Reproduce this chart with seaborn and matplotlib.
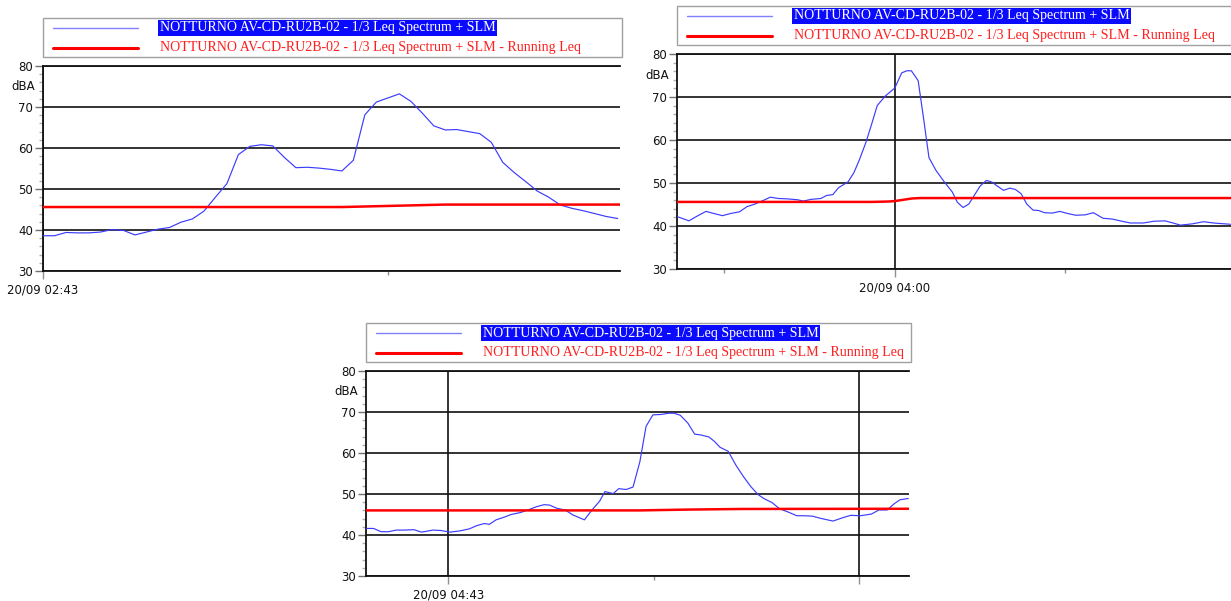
import numpy as np
import pandas as pd
import matplotlib
matplotlib.use("Agg")
import matplotlib.pyplot as plt
from matplotlib.patches import Rectangle
from matplotlib.lines import Line2D
from matplotlib.ticker import MultipleLocator, FixedLocator
import seaborn as sns

# ---------------- data ----------------
SERIES_LABEL = "NOTTURNO AV-CD-RU2B-02 - 1/3 Leq Spectrum + SLM"
RUNNING_LABEL = "NOTTURNO AV-CD-RU2B-02 - 1/3 Leq Spectrum + SLM - Running Leq"
Y_UNIT = "dBA"

# panel 1 (seconds after 20/09 02:43)
p1_t = list(range(51))
p1_leq = [38.6, 38.6, 39.4, 39.3, 39.3, 39.5, 40.1, 39.9, 38.8, 39.5,
          40.2, 40.6, 41.9, 42.7, 44.6, 48.0, 51.3, 58.4, 60.4, 60.8,
          60.5, 57.7, 55.2, 55.3, 55.1, 54.8, 54.4, 57.0, 68.1, 71.2,
          72.2, 73.2, 71.4, 68.5, 65.4, 64.4, 64.5, 64.0, 63.5, 61.4,
          56.5, 54.0, 51.8, 49.5, 48.0, 46.1, 45.3, 44.7, 44.0, 43.3, 42.8]
p1_run_t = [0, 26, 29, 32, 35, 50.2]
p1_run = [45.6, 45.6, 45.8, 46.0, 46.2, 46.2]
p1_xlim = (0, 50.2)
p1_major = [0]
p1_major_labels = ["20/09 02:43"]
p1_minor = [30]

# panel 2 (seconds relative to 20/09 04:00)
p2_t = [-38.3, -36.2, -34.9, -33.2, -31.8, -30.3, -28.9, -27.3, -26.0, -24.6,
        -23.2, -21.9, -20.5, -18.8, -17.1, -16.1, -14.7, -13.0, -12.0, -10.9,
        -9.9, -8.2, -7.2, -6.2, -5.1, -4.1, -3.1, -1.7, 0.0, 1.2,
        2.1, 2.9, 4.1, 5.0, 6.0, 7.2, 8.5, 10.1, 11.0, 12.0,
        13.0, 14.0, 15.0, 16.1, 17.1, 18.0, 19.1, 20.2, 21.2, 22.2,
        23.2, 24.3, 25.3, 26.3, 27.7, 29.0, 30.4, 31.8, 33.5, 34.9,
        36.6, 38.3, 39.6, 41.4, 43.7, 45.5, 47.5, 48.9, 50.2, 52.3,
        54.3, 56.0, 59.0]
p2_leq = [42.2, 41.2, 42.2, 43.4, 42.9, 42.4, 42.9, 43.3, 44.5, 45.1,
          45.9, 46.7, 46.4, 46.3, 46.1, 45.8, 46.2, 46.4, 47.1, 47.3,
          48.9, 50.3, 52.4, 55.5, 59.4, 63.6, 68.0, 70.2, 72.1, 75.6,
          76.1, 76.1, 73.8, 65.5, 55.9, 53.0, 50.6, 47.9, 45.5, 44.3,
          45.1, 47.2, 49.3, 50.6, 50.2, 49.3, 48.3, 48.8, 48.5, 47.5,
          45.1, 43.7, 43.6, 43.1, 43.0, 43.4, 42.9, 42.5, 42.6, 43.1,
          41.8, 41.6, 41.2, 40.7, 40.7, 41.1, 41.2, 40.7, 40.2, 40.5,
          41.0, 40.7, 40.4]
p2_run_t = [-38.3, -4.0, -1.0, 0.0, 1.5, 3.0, 4.5, 59.1]
p2_run = [45.6, 45.6, 45.7, 45.8, 46.1, 46.4, 46.5, 46.5]
p2_xlim = (-38.3, 59.1)
p2_major = [0]
p2_major_labels = ["20/09 04:00"]
p2_minor = [-30, 30]

# panel 3 (seconds relative to 20/09 04:43)
p3_t = [-12.0, -10.9, -9.8, -8.7, -7.6, -6.4, -5.0, -3.9, -2.2, -1.1,
        0.3, 1.7, 3.1, 4.2, 5.3, 6.0, 7.0, 8.1, 9.2, 10.6,
        11.8, 12.9, 14.0, 14.8, 15.9, 17.1, 18.2, 19.9, 21.0, 22.1,
        22.9, 24.1, 24.9, 26.0, 27.0, 28.0, 28.9, 29.9, 31.1, 32.2,
        33.0, 33.9, 35.0, 36.0, 36.9, 38.1, 38.9, 39.7, 40.9, 42.0,
        43.1, 44.2, 45.3, 46.2, 47.3, 48.4, 49.8, 50.9, 52.0, 53.2,
        54.3, 55.1, 56.2, 57.6, 58.8, 60.2, 61.8, 62.9, 64.1, 65.2,
        66.0, 67.2]
p3_leq = [41.6, 41.6, 40.8, 40.8, 41.2, 41.2, 41.3, 40.7, 41.2, 41.1,
          40.7, 41.0, 41.5, 42.3, 42.8, 42.6, 43.7, 44.3, 45.0, 45.5,
          46.2, 46.9, 47.4, 47.3, 46.5, 46.1, 44.9, 43.7, 46.1, 48.2,
          50.6, 50.1, 51.3, 51.1, 51.7, 57.9, 66.5, 69.3, 69.4, 69.7,
          69.7, 69.2, 67.3, 64.6, 64.4, 63.9, 62.8, 61.4, 60.4, 57.1,
          54.3, 51.8, 49.8, 48.8, 47.9, 46.4, 45.5, 44.7, 44.7, 44.6,
          44.1, 43.8, 43.4, 44.2, 44.8, 44.7, 45.1, 46.1, 46.1, 47.7,
          48.6, 48.9]
p3_run_t = [-12.0, 28.0, 35.0, 43.0, 67.3]
p3_run = [46.0, 46.0, 46.2, 46.35, 46.4]
p3_xlim = (-12.0, 67.3)
p3_major = [0, 60]
p3_major_labels = ["20/09 04:43", ""]
p3_minor = [30]

Y_MIN, Y_MAX = 30, 80

# ---------------- style ----------------
sns.set_theme(style="white")
plt.rcParams["font.family"] = ["DejaVu Sans"]

BLUE = "#3c3cff"
RED = "#ff0000"
HILITE = "#0a0aff"
W, H, DPI = 1231, 601, 100

fig = plt.figure(figsize=(W / DPI, H / DPI), dpi=DPI)
fig.patch.set_facecolor("white")


def px_rect(l, t, r, b):
    return [l / W, 1 - b / H, (r - l) / W, (b - t) / H]


panels = [
    (px_rect(43, 66, 620, 271), p1_t, p1_leq, p1_run_t, p1_run, p1_xlim, p1_major, p1_major_labels, p1_minor),
    (px_rect(677, 54, 1231, 269), p2_t, p2_leq, p2_run_t, p2_run, p2_xlim, p2_major, p2_major_labels, p2_minor),
    (px_rect(366, 371, 909, 576), p3_t, p3_leq, p3_run_t, p3_run, p3_xlim, p3_major, p3_major_labels, p3_minor),
]


def draw_legend(rect):
    l, b, w, h = rect
    left_px = l * W
    top_px = (1 - (b + h)) * H
    width_px = w * W
    box_top = top_px - 48
    box_h = 39
    fig.add_artist(Rectangle((left_px / W, 1 - (box_top + box_h) / H),
                             (width_px + 2) / W, box_h / H,
                             transform=fig.transFigure, facecolor="white",
                             edgecolor="#a0a0a0", linewidth=1.0))
    rows = [(box_top + 10, BLUE, 1.0, SERIES_LABEL, True),
            (box_top + 29.5, RED, 2.2, RUNNING_LABEL, False)]
    for y, col, lw, lab, hl in rows:
        fig.add_artist(Line2D([(left_px + 10) / W, (left_px + 95) / W],
                              [1 - y / H, 1 - y / H], transform=fig.transFigure,
                              color=col if not hl else "#8080ff", linewidth=lw))
        t = fig.text((left_px + 117) / W, 1 - y / H, lab,
                     family="Liberation Serif", fontsize=10.1,
                     color="white" if hl else "#ff2020",
                     ha="left", va="center")
        if hl:
            t.set_bbox(dict(boxstyle="square,pad=0.12", facecolor=HILITE, edgecolor="none"))


for rect, t, leq, rt, run, xlim, major, major_labels, minor in panels:
    ax = fig.add_axes(rect)
    df = pd.DataFrame({"t": t, "leq": leq})
    dr = pd.DataFrame({"t": rt, "run": run})
    sns.lineplot(data=df, x="t", y="leq", ax=ax, color=BLUE, linewidth=0.85,
                 errorbar=None, legend=False, zorder=3)
    sns.lineplot(data=dr, x="t", y="run", ax=ax, color=RED, linewidth=1.8,
                 errorbar=None, legend=False, zorder=4)
    ax.set_xlim(*xlim)
    ax.set_ylim(Y_MIN, Y_MAX)
    ax.set_xlabel("")
    ax.set_ylabel("")
    ax.set_facecolor("white")
    ax.yaxis.set_major_locator(MultipleLocator(10))
    ax.yaxis.set_minor_locator(MultipleLocator(2))
    ax.xaxis.set_major_locator(FixedLocator(major))
    ax.xaxis.set_minor_locator(FixedLocator(minor))
    ax.set_xticklabels(major_labels)
    ax.grid(True, which="major", axis="both", color="#111111", linewidth=1.2)
    ax.set_axisbelow(True)
    for side in ("top", "left", "bottom"):
        ax.spines[side].set_visible(True)
        ax.spines[side].set_color("#111111")
        ax.spines[side].set_linewidth(1.3)
    ax.spines["right"].set_visible(False)
    ax.tick_params(axis="y", which="major", left=True, length=6, width=1.0,
                   color="#707070", pad=1, labelsize=8.5, labelcolor="#111111")
    ax.tick_params(axis="y", which="minor", left=True, length=3, width=1.0,
                   color="#b0b0b0")
    ax.tick_params(axis="x", which="major", bottom=True, length=6, width=1.0,
                   color="#909090", pad=3, labelsize=8.5, labelcolor="#111111")
    ax.tick_params(axis="x", which="minor", bottom=True, length=3, width=1.0,
                   color="#909090")
    ax.annotate(Y_UNIT, xy=(0, 75), xycoords=("axes fraction", "data"),
                xytext=(-8, 0), textcoords="offset pixels",
                ha="right", va="center", fontsize=8.5, color="#111111")
    draw_legend(rect)

fig.savefig("out.png", dpi=DPI, facecolor="white")
